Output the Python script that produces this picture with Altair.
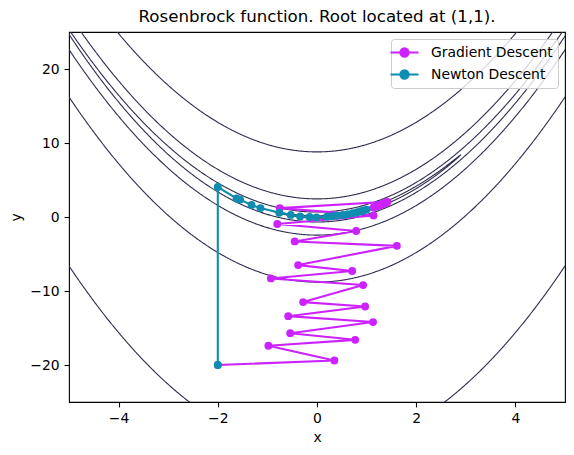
import altair as alt
import numpy as np
import pandas as pd

# Contour levels of the Rosenbrock function f = (1-x)^2 + 100 (y - x^2)^2
levels = [3.594, 46.42, 599.5, 7743.0, 100000.0]

methods = ["Gradient Descent", "Newton Descent"]
colors = ["#cc22ff", "#0e8db0"]

gd_x = [-2.0, 0.35, -0.98, 0.77, -0.54, 1.13, -0.58, 0.97, -0.28, 0.93, -0.93, 0.71,
        -0.38, 1.61, -0.45, 0.79, -0.8, 1.14, -0.75, 1.42, 1.40, 1.38, 1.36, 1.34,
        1.32, 1.30, 1.28, 1.26, 1.23, 1.20, 1.17, 1.14]
gd_y = [-20.0, -19.4, -17.4, -16.6, -15.7, -14.2, -13.4, -12.1, -11.5, -9.2, -8.3, -7.3,
        -6.5, -3.9, -3.3, -1.9, -0.95, 0.2, 1.2, 2.05, 1.97, 1.91, 1.86, 1.80,
        1.75, 1.70, 1.64, 1.59, 1.52, 1.44, 1.37, 1.30]

nt_x = [-2.0, -2.0, -1.62, -1.55, -1.32, -1.14, -0.76, -0.53, -0.34, -0.15, -0.01,
        0.2, 0.3, 0.4, 0.52, 0.62, 0.72, 0.81, 0.88, 0.94, 1.0]
nt_y = [-20.0, 4.05, 2.5, 2.35, 1.62, 1.2, 0.58, 0.28, 0.08, 0.0, -0.05,
        0.05, 0.1, 0.17, 0.27, 0.38, 0.52, 0.65, 0.77, 0.88, 1.0]

x_ticks = [-4, -2, 0, 2, 4]
y_ticks = [-20, -10, 0, 10, 20]

# ---- contour curves of the known function, one closed/open curve per level
rows = []
seg = 0
for L in levels:
    r = np.sqrt(L)
    if 1 - r > -5.6 and 1 + r < 5.6:
        t = np.linspace(0, 2 * np.pi, 900)
        xs = 1 - r * np.cos(t)
        ys = xs ** 2 + r * np.sin(t) / 10.0
        for i, (a, b) in enumerate(zip(xs, ys)):
            rows.append({"x": a, "y": b, "seg": seg, "i": i})
        seg += 1
    else:
        xs = np.linspace(max(-5.6, 1 - r), min(5.6, 1 + r), 700)
        root = np.sqrt(np.maximum(L - (1 - xs) ** 2, 0)) / 10.0
        for sign in (1, -1):
            ys = xs ** 2 + sign * root
            keep = (ys > -27) & (ys < 27)
            for i, (a, b) in enumerate(zip(xs[keep], ys[keep])):
                rows.append({"x": a, "y": b, "seg": seg, "i": i})
            seg += 1
contours = pd.DataFrame(rows)

gd = pd.DataFrame({"x": gd_x, "y": gd_y, "step": range(len(gd_x)), "method": methods[0]})
nt = pd.DataFrame({"x": nt_x, "y": nt_y, "step": range(len(nt_x)), "method": methods[1]})

FONT = "DejaVu Sans"

xenc = alt.X("x:Q", scale=alt.Scale(domain=[-5, 5], nice=False, zero=False),
             axis=alt.Axis(values=x_ticks, title="x"))
yenc = alt.Y("y:Q", scale=alt.Scale(domain=[-25, 25], nice=False, zero=False),
             axis=alt.Axis(values=y_ticks, title="y"))

color_scale = alt.Scale(domain=methods, range=colors)

sym_path = ("M-2,0L2,0M-0.593,0A0.593,0.593,0,1,0,0.593,0"
            "A0.593,0.593,0,1,0,-0.593,0Z")

legend = alt.Legend(
    title=None, orient="top-right", offset=7, padding=5,
    symbolType=sym_path, symbolSize=196, symbolStrokeWidth=2.08,
    labelOffset=18, rowPadding=5, symbolOpacity=1,
    labelFont=FONT, labelFontSize=13.9, labelColor="black",
    fillColor="rgba(255,255,255,0.8)", strokeColor="#cccccc", cornerRadius=3,
)

contour_layer = alt.Chart(contours).mark_line(
    clip=True, color="#2e2e50", strokeWidth=1.1
).encode(x=xenc, y=yenc, detail="seg:N", order="i:Q")


def path_layers(df):
    line = alt.Chart(df).mark_line(clip=True, strokeWidth=2.08).encode(
        x=xenc, y=yenc, order="step:Q",
        color=alt.Color("method:N", scale=color_scale, legend=legend),
    )
    pts = alt.Chart(df).mark_point(clip=True, size=62, opacity=1, filled=True).encode(
        x=xenc, y=yenc,
        color=alt.Color("method:N", scale=color_scale, legend=legend),
    )
    return [line, pts]


chart = alt.layer(
    contour_layer, *path_layers(gd), *path_layers(nt)
).properties(
    width=496, height=370,
    title=alt.TitleParams("Rosenbrock function. Root located at (1,1).",
                          font=FONT, fontSize=16.67, fontWeight="normal",
                          color="black", anchor="middle", frame="group",
                          offset=6),
    padding={"left": 61, "top": 24, "right": 1, "bottom": 45},
    autosize=alt.AutoSizeParams(type="none"),
).configure_view(
    stroke="black", strokeWidth=1.1
).configure_axis(
    domain=False, grid=False, ticks=True, tickColor="black", tickWidth=1.1,
    tickSize=4.9, labelPadding=4.9, labelFont=FONT, labelFontSize=13.9,
    labelColor="black", titleFont=FONT, titleFontSize=13.9,
    titleFontWeight="normal", titleColor="black", titlePadding=5,
).configure_axisX(labelFlush=False).configure_axisY(labelFlush=False, titlePadding=6)

chart.save("out.html", embed_options={"renderer": "svg", "actions": False})
